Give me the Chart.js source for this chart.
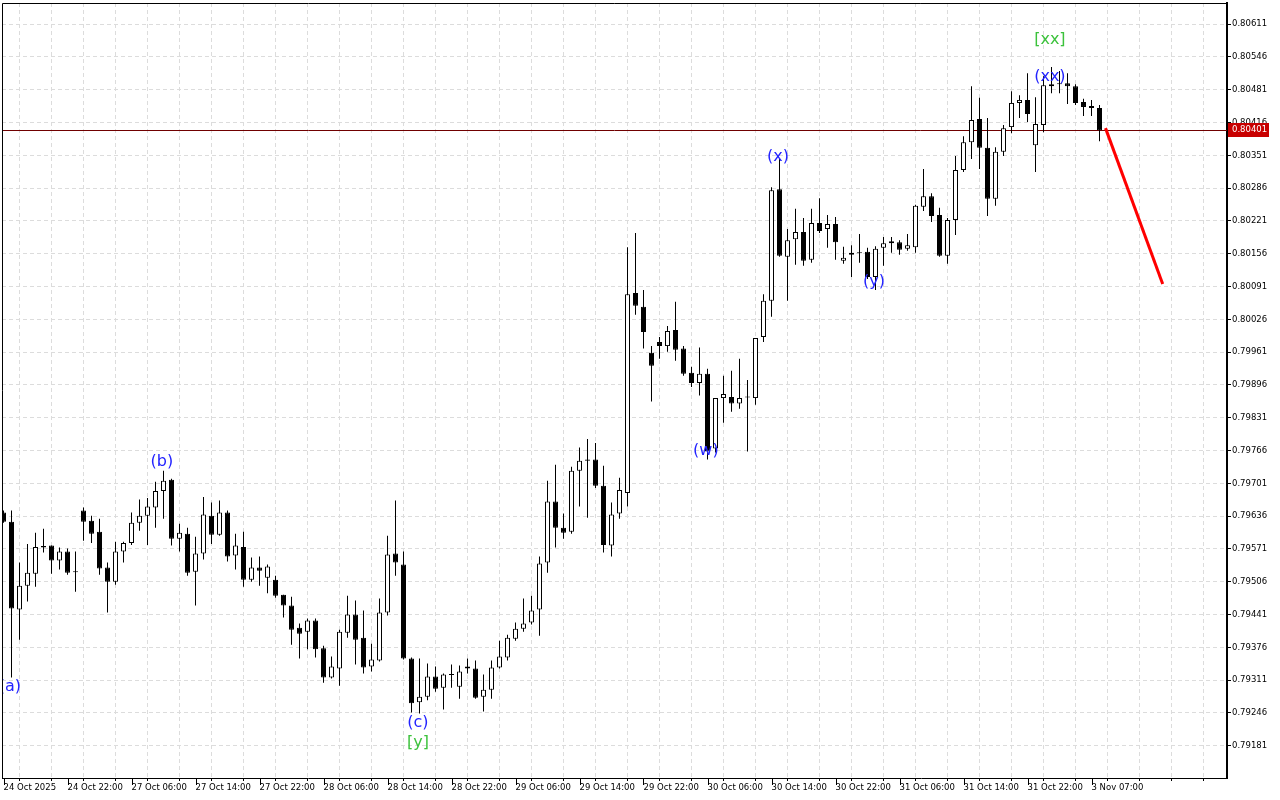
<!DOCTYPE html>
<html>
<head>
<meta charset="utf-8">
<script src="https://cdn.jsdelivr.net/npm/chart.js@4.4.1/dist/chart.umd.min.js"></script>
<style>
  html, body { margin: 0; padding: 0; background: #fff; }
  #wrap { width: 1280px; height: 800px; }
</style>
</head>
<body>
<div id="wrap"><canvas id="chart" width="1280" height="800"></canvas></div>
<script>
// H1 candles, 24 Oct 14:00 -> 3 Nov 08:00
const opens = [
  0.79643, 0.79625, 0.79451, 0.79498, 0.79522, 0.79577, 0.79578, 0.79548, 0.79566, 0.79526,
  0.79647, 0.79627, 0.79605, 0.79534, 0.79506, 0.79566, 0.79583, 0.79623, 0.79637, 0.79653,
  0.79686, 0.79708, 0.79591, 0.79601, 0.79526, 0.79562, 0.79637, 0.79599, 0.79643, 0.79558,
  0.79575, 0.79510, 0.79534, 0.79514, 0.79510, 0.79480, 0.79459, 0.79415, 0.79407, 0.79429,
  0.79374, 0.79316, 0.79334, 0.79405, 0.79441, 0.79395, 0.79338, 0.79350, 0.79445, 0.79562,
  0.79540, 0.79354, 0.79267, 0.79278, 0.79318, 0.79296, 0.79322, 0.79298, 0.79338, 0.79334,
  0.79278, 0.79292, 0.79336, 0.79356, 0.79393, 0.79413, 0.79425, 0.79451, 0.79544, 0.79665,
  0.79613, 0.79605, 0.79726, 0.79748, 0.79748, 0.79696, 0.79578, 0.79641, 0.79682, 0.80078,
  0.80051, 0.79960, 0.79981, 0.79973, 0.80005, 0.79968, 0.79920, 0.79900, 0.79918, 0.79770,
  0.79870, 0.79872, 0.79859, 0.79872, 0.79870, 0.79991, 0.80063, 0.80284, 0.80150, 0.80185,
  0.80199, 0.80144, 0.80217, 0.80205, 0.80215, 0.80142, 0.80158, 0.80158, 0.80160, 0.80110,
  0.80168, 0.80177, 0.80179, 0.80166, 0.80169, 0.80249, 0.80270, 0.80233, 0.80152, 0.80223,
  0.80322, 0.80377, 0.80423, 0.80366, 0.80265, 0.80358, 0.80407, 0.80455, 0.80461, 0.80371,
  0.80411, 0.80488, 0.80494, 0.80494, 0.80488, 0.80457, 0.80449, 0.80445
];
const highs = [
  0.79647, 0.79647, 0.79544, 0.79581, 0.79603, 0.79611, 0.79578, 0.79574, 0.79572, 0.79566,
  0.79653, 0.79637, 0.79631, 0.79544, 0.79585, 0.79585, 0.79643, 0.79669, 0.79672, 0.79704,
  0.79726, 0.79710, 0.79621, 0.79613, 0.79595, 0.79674, 0.79663, 0.79667, 0.79647, 0.79601,
  0.79605, 0.79554, 0.79556, 0.79540, 0.79518, 0.79480, 0.79476, 0.79423, 0.79433, 0.79433,
  0.79379, 0.79358, 0.79411, 0.79478, 0.79469, 0.79449, 0.79383, 0.79473, 0.79597, 0.79667,
  0.79566, 0.79356, 0.79354, 0.79344, 0.79338, 0.79324, 0.79342, 0.79340, 0.79354, 0.79350,
  0.79322, 0.79350, 0.79389, 0.79401, 0.79425, 0.79473, 0.79478, 0.79556, 0.79706, 0.79738,
  0.79641, 0.79734, 0.79772, 0.79789, 0.79781, 0.79736, 0.79663, 0.79712, 0.80169, 0.80197,
  0.80084, 0.79973, 0.79991, 0.80013, 0.80061, 0.79973, 0.79932, 0.79970, 0.79928, 0.79870,
  0.79914, 0.79924, 0.79948, 0.79906, 0.79989, 0.80076, 0.80288, 0.80344, 0.80205, 0.80245,
  0.80227, 0.80245, 0.80266, 0.80233, 0.80229, 0.80170, 0.80173, 0.80195, 0.80168, 0.80171,
  0.80189, 0.80189, 0.80183, 0.80195, 0.80253, 0.80324, 0.80276, 0.80247, 0.80227, 0.80350,
  0.80389, 0.80488, 0.80465, 0.80425, 0.80367, 0.80411, 0.80478, 0.80470, 0.80514, 0.80466,
  0.80508, 0.80526, 0.80518, 0.80514, 0.80492, 0.80463, 0.80461, 0.80451
];
const lows = [
  0.79623, 0.79316, 0.79391, 0.79467, 0.79496, 0.79564, 0.79522, 0.79530, 0.79520, 0.79486,
  0.79587, 0.79583, 0.79520, 0.79445, 0.79500, 0.79544, 0.79579, 0.79607, 0.79579, 0.79613,
  0.79631, 0.79578, 0.79566, 0.79518, 0.79459, 0.79550, 0.79581, 0.79597, 0.79546, 0.79530,
  0.79496, 0.79506, 0.79498, 0.79483, 0.79474, 0.79435, 0.79381, 0.79354, 0.79372, 0.79356,
  0.79306, 0.79314, 0.79300, 0.79395, 0.79342, 0.79324, 0.79328, 0.79348, 0.79439, 0.79518,
  0.79352, 0.79247, 0.79245, 0.79271, 0.79288, 0.79253, 0.79296, 0.79274, 0.79324, 0.79274,
  0.79249, 0.79274, 0.79334, 0.79350, 0.79389, 0.79407, 0.79421, 0.79399, 0.79524, 0.79574,
  0.79591, 0.79601, 0.79655, 0.79633, 0.79692, 0.79564, 0.79556, 0.79631, 0.79655, 0.80035,
  0.79968, 0.79863, 0.79948, 0.79962, 0.79944, 0.79914, 0.79892, 0.79875, 0.79748, 0.79762,
  0.79821, 0.79843, 0.79849, 0.79764, 0.79857, 0.79981, 0.80031, 0.80150, 0.80063, 0.80134,
  0.80132, 0.80138, 0.80197, 0.80168, 0.80144, 0.80136, 0.80110, 0.80138, 0.80106, 0.80084,
  0.80132, 0.80158, 0.80154, 0.80162, 0.80158, 0.80241, 0.80219, 0.80150, 0.80136, 0.80193,
  0.80318, 0.80344, 0.80324, 0.80231, 0.80251, 0.80350, 0.80395, 0.80425, 0.80417, 0.80318,
  0.80397, 0.80474, 0.80474, 0.80453, 0.80451, 0.80429, 0.80429, 0.80379
];
const closes = [
  0.79625, 0.79453, 0.79498, 0.79524, 0.79575, 0.79574, 0.79548, 0.79566, 0.79524, 0.79525,
  0.79625, 0.79601, 0.79532, 0.79506, 0.79566, 0.79583, 0.79623, 0.79637, 0.79655, 0.79686,
  0.79706, 0.79591, 0.79603, 0.79524, 0.79562, 0.79639, 0.79599, 0.79643, 0.79556, 0.79578,
  0.79510, 0.79534, 0.79528, 0.79536, 0.79478, 0.79459, 0.79411, 0.79403, 0.79429, 0.79372,
  0.79316, 0.79338, 0.79407, 0.79441, 0.79391, 0.79336, 0.79352, 0.79445, 0.79560, 0.79544,
  0.79354, 0.79265, 0.79278, 0.79318, 0.79294, 0.79322, 0.79321, 0.79328, 0.79334, 0.79276,
  0.79292, 0.79336, 0.79358, 0.79395, 0.79413, 0.79423, 0.79449, 0.79542, 0.79665, 0.79613,
  0.79603, 0.79726, 0.79746, 0.79746, 0.79696, 0.79579, 0.79639, 0.79688, 0.80076, 0.80053,
  0.80001, 0.79934, 0.79973, 0.80003, 0.79966, 0.79918, 0.79900, 0.79918, 0.79764, 0.79870,
  0.79878, 0.79859, 0.79870, 0.79871, 0.79989, 0.80063, 0.80282, 0.80152, 0.80183, 0.80199,
  0.80142, 0.80217, 0.80201, 0.80215, 0.80179, 0.80148, 0.80154, 0.80157, 0.80110, 0.80166,
  0.80177, 0.80181, 0.80164, 0.80173, 0.80251, 0.80270, 0.80231, 0.80152, 0.80223, 0.80322,
  0.80377, 0.80421, 0.80366, 0.80265, 0.80358, 0.80405, 0.80455, 0.80461, 0.80433, 0.80413,
  0.80490, 0.80492, 0.80492, 0.80488, 0.80455, 0.80447, 0.80445, 0.80401
];

// one label every 8 candles
const timeLabels = [
  '24 Oct 2025', '24 Oct 22:00', '27 Oct 06:00', '27 Oct 14:00', '27 Oct 22:00',
  '28 Oct 06:00', '28 Oct 14:00', '28 Oct 22:00', '29 Oct 06:00', '29 Oct 14:00',
  '29 Oct 22:00', '30 Oct 06:00', '30 Oct 14:00', '30 Oct 22:00', '31 Oct 06:00',
  '31 Oct 14:00', '31 Oct 22:00', '3 Nov 07:00'
];
const priceTicks = [
  0.79181, 0.79246, 0.79311, 0.79376, 0.79441, 0.79506, 0.79571, 0.79636, 0.79701, 0.79766,
  0.79831, 0.79896, 0.79961, 0.80026, 0.80091, 0.80156, 0.80221, 0.80286, 0.80351, 0.80416,
  0.80481, 0.80546, 0.80611
];
const lastPrice = 0.80401;

// forecast arrow (candle index, price)
const forecastIdx = [137.75, 144.9];
const forecastPrice = [0.80405, 0.80096];

// wave marks
const waveText  = ['(a)', '(b)', '(c)', '[y]', '(w)', '(x)', '(y)', '(xx)', '[xx]'];
const waveIdx   = [0.8, 19.8, 51.8, 51.8, 87.8, 96.8, 108.8, 130.8, 130.8];
const wavePrice = [0.79298, 0.79744, 0.79227, 0.79187, 0.79766, 0.80348, 0.80100, 0.80506, 0.80579];
const waveColor = ['#2424ff', '#2424ff', '#2424ff', '#3cc23c', '#2424ff', '#2424ff', '#2424ff', '#2424ff', '#3cc23c'];

const idx = opens.map((_, i) => i);
const bodyData = idx.map(i => ({ x: i, y: [opens[i], closes[i]] }));
const wickData = idx.map(i => ({ x: i, y: [lows[i], highs[i]] }));
const bodyFill = idx.map(i => closes[i] >= opens[i] ? '#ffffff' : '#000000');

Chart.defaults.font.family = "'DejaVu Sans', sans-serif";
Chart.defaults.color = '#000';

const extras = {
  id: 'extras',
  beforeDatasetsDraw(chart) {
    // current price line under the candles
    const { ctx, chartArea: a, scales: { y } } = chart;
    const py = Math.round(y.getPixelForValue(lastPrice)) + 0.5;
    ctx.save();
    ctx.strokeStyle = '#700000';
    ctx.lineWidth = 1;
    ctx.beginPath();
    ctx.moveTo(a.left, py);
    ctx.lineTo(a.right, py);
    ctx.stroke();
    ctx.restore();
  },
  afterDatasetsDraw(chart) {
    const { ctx, chartArea: a, scales: { x, y } } = chart;
    ctx.save();
    ctx.beginPath();
    ctx.rect(a.left, a.top, a.right - a.left, a.bottom - a.top);
    ctx.clip();
    ctx.font = "16px 'DejaVu Sans'";
    ctx.textAlign = 'center';
    ctx.textBaseline = 'middle';
    waveText.forEach((t, k) => {
      ctx.fillStyle = waveColor[k];
      ctx.fillText(t, x.getPixelForValue(waveIdx[k]), y.getPixelForValue(wavePrice[k]));
    });
    ctx.restore();
  },
  afterDraw(chart) {
    const { ctx, chartArea: a, scales: { x, y } } = chart;
    ctx.save();
    // frame
    ctx.strokeStyle = '#000';
    ctx.lineWidth = 1;
    ctx.beginPath();
    ctx.moveTo(a.left + 0.5, a.bottom);
    ctx.lineTo(a.left + 0.5, a.top + 0.5);
    ctx.lineTo(a.right, a.top + 0.5);
    ctx.stroke();
    // longer marks under the labelled times
    ctx.beginPath();
    timeLabels.forEach((_, k) => {
      const px = Math.round(x.getPixelForValue(k * 8)) + 0.5;
      ctx.moveTo(px, a.bottom);
      ctx.lineTo(px, a.bottom + 7);
    });
    ctx.stroke();
    // current price tag
    const py = Math.round(y.getPixelForValue(lastPrice));
    ctx.fillStyle = '#c80000';
    ctx.fillRect(a.right + 1, py - 7, 41, 14);
    ctx.fillStyle = '#fff';
    ctx.font = "8.5px 'DejaVu Sans'";
    ctx.textAlign = 'left';
    ctx.textBaseline = 'middle';
    ctx.fillText(lastPrice.toFixed(5), a.right + 5, py);
    ctx.restore();
  }
};

new Chart(document.getElementById('chart'), {
  type: 'bar',
  data: {
    datasets: [
      {
        label: 'body',
        data: bodyData,
        backgroundColor: bodyFill,
        borderColor: '#000',
        borderWidth: 1,
        borderSkipped: false,
        barThickness: 5,
        minBarLength: 1,
        inflateAmount: 0,
        grouped: false,
        order: 1
      },
      {
        label: 'wick',
        data: wickData,
        backgroundColor: '#000',
        borderWidth: 0,
        barThickness: 1,
        inflateAmount: 0,
        grouped: false,
        order: 2
      },
      {
        type: 'line',
        label: 'forecast',
        data: forecastIdx.map((v, k) => ({ x: v, y: forecastPrice[k] })),
        borderColor: '#ff0000',
        borderWidth: 3,
        pointRadius: 0,
        order: 0
      }
    ]
  },
  options: {
    responsive: false,
    animation: false,
    layout: { padding: { left: 2, top: 3, right: 0, bottom: 0 } },
    plugins: { legend: { display: false }, tooltip: { enabled: false } },
    scales: {
      x: {
        type: 'linear',
        offset: false,
        bounds: 'data',
        min: -0.1875,
        max: 152.9375,
        afterBuildTicks: s => {
          const t = [];
          for (let v = 0; v <= s.max; v += 4) t.push({ value: v });
          s.ticks = t;
        },
        afterFit: s => { s.height = 22; s.paddingLeft = 0; s.paddingRight = 0; },
        grid: { color: '#dcdcdc', tickColor: '#000', tickLength: 3 },
        border: { color: '#000', width: 1, dash: [4, 3] },
        ticks: {
          autoSkip: false,
          maxRotation: 0,
          minRotation: 0,
          align: 'start',
          padding: 2,
          font: { size: 8.5 },
          callback: v => (v % 8 === 0 && timeLabels[v / 8]) ? timeLabels[v / 8] : ''
        }
      },
      y: {
        position: 'right',
        bounds: 'data',
        min: 0.79117,
        max: 0.80653,
        afterBuildTicks: s => { s.ticks = priceTicks.map(v => ({ value: v })); },
        afterFit: s => { s.width = 53; s.paddingTop = 0; s.paddingBottom = 0; },
        grid: { color: '#dcdcdc', tickColor: '#000', tickLength: 4 },
        border: { color: '#000', width: 2, dash: [4, 3] },
        ticks: {
          padding: 1,
          font: { size: 8.5 },
          callback: v => v.toFixed(5)
        }
      }
    }
  },
  plugins: [extras]
});
</script>
</body>
</html>
